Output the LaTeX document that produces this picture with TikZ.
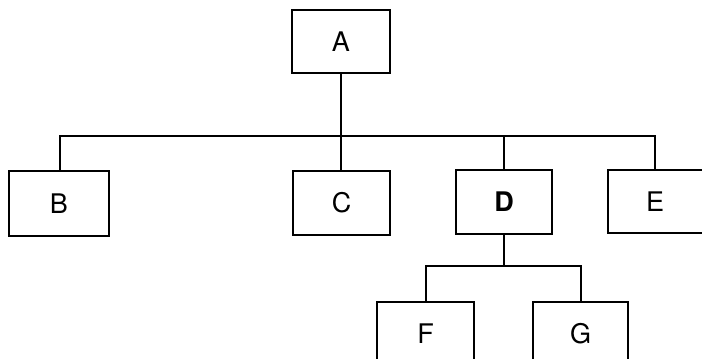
\documentclass[tikz,border=0pt]{standalone}
\usepackage{fontspec}
\setmainfont{TeX Gyre Heros}
\begin{document}
\begin{tikzpicture}[x=1pt,y=-1pt,
  box/.style={draw, line width=2pt, inner sep=0pt, font=\fontsize{27}{30}\selectfont},
  conn/.style={line width=2pt}]
\useasboundingbox (0,0) rectangle (702,359);
\clip (0,0) rectangle (702,359);
\node[box, minimum width=98pt, minimum height=63pt] (A) at (341,41.5) {A};
\node[box, minimum width=100pt, minimum height=65pt] (B) at (59,203.5) {B};
\node[box, minimum width=97pt, minimum height=64pt] (C) at (341.5,203) {C};
\node[box, minimum width=96pt, minimum height=64pt] (D) at (504,202) {\bfseries D};
\node[box, minimum width=100pt, minimum height=63pt] (E) at (658,201.5) {};
\node[font=\fontsize{27}{30}\selectfont, inner sep=0pt] (Et) at (655,202) {E};
\node[box, minimum width=97pt, minimum height=64pt] (F) at (425.5,334) {F};
\node[box, minimum width=95pt, minimum height=64pt] (G) at (580.5,334) {G};
\coordinate (bus) at (341,136);
\coordinate (busD) at (504,266);
\draw[conn] (A.south) -- (A.south |- bus);
\draw[conn] (B.north -| 60,0) |- (Et.center |- bus) -- (Et.center |- E.north);
\draw[conn] (C.north -| A.south) -- (A.south |- bus);
\draw[conn] (D.north) -- (D.north |- bus);
\draw[conn] (D.south) -- (busD);
\draw[conn] (F.north) |- (busD) -| (G.north);
\end{tikzpicture}
\end{document}
